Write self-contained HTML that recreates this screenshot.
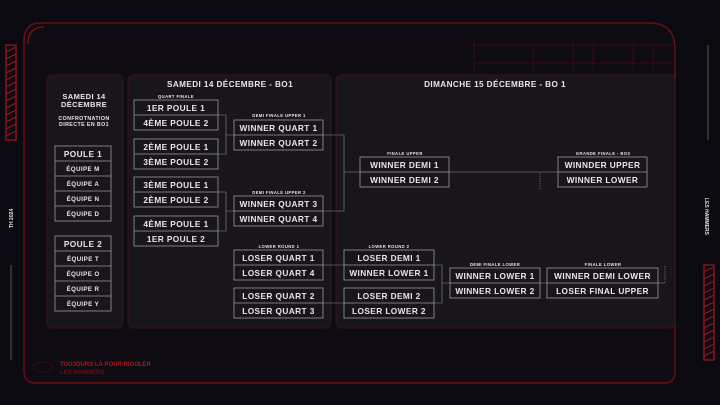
<!DOCTYPE html>
<html><head><meta charset="utf-8"><style>
html,body{margin:0;padding:0;background:#0b0a10;}
svg{display:block;}
text{font-family:"Liberation Sans",sans-serif;font-weight:bold;fill:#e8e6ea;}
</style></head><body>
<svg width="720" height="405" viewBox="0 0 720 405" xmlns="http://www.w3.org/2000/svg">
<rect width="720" height="405" fill="#0b0a10"/>
<path d="M24,40 Q24,23 41,23 L650,23 Q675,23 675,50 L675,372 Q675,383 664,383 L36,383 Q24,383 24,371 Z" fill="#0e0c12" stroke="#6a0e16" stroke-width="1.5"/>
<path d="M28,44 Q28,27 44,27" fill="none" stroke="#a0141c" stroke-width="1"/>
<g stroke="#4a0e14" stroke-width="0.7">
<line x1="470" y1="45" x2="673" y2="45"/><line x1="475" y1="63" x2="673" y2="63"/>
<line x1="474" y1="40" x2="474" y2="75"/><line x1="533" y1="45" x2="533" y2="72"/>
<line x1="573" y1="42" x2="573" y2="72"/><line x1="593" y1="45" x2="593" y2="70"/>
<line x1="633" y1="45" x2="633" y2="70"/><line x1="653" y1="45" x2="653" y2="70"/>
</g>
<g fill="#19161b" stroke="#3a1116" stroke-width="1">
<rect x="47" y="75" width="76" height="253" rx="5"/>
<rect x="128" y="75" width="203" height="253" rx="5"/>
<rect x="336" y="75" width="339" height="253" rx="5"/>
</g>
<g fill="none" stroke="#8a121a" stroke-width="1.5">
<rect x="6" y="45" width="10" height="95"/>
<rect x="704" y="265" width="10" height="95"/>
</g>
<g stroke="#8a121a" stroke-width="1.3">
<path d="M6,52 L16,47 M6,59 L16,54 M6,66 L16,61 M6,73 L16,68 M6,80 L16,75 M6,87 L16,82 M6,94 L16,89 M6,101 L16,96 M6,108 L16,103 M6,115 L16,110 M6,122 L16,117 M6,129 L16,124 M6,136 L16,131"/>
<path d="M704,272 L714,267 M704,279 L714,274 M704,286 L714,281 M704,293 L714,288 M704,300 L714,295 M704,307 L714,302 M704,314 L714,309 M704,321 L714,316 M704,328 L714,323 M704,335 L714,330 M704,342 L714,337 M704,349 L714,344 M704,356 L714,351"/>
</g>
<line x1="11" y1="265" x2="11" y2="360" stroke="#888" stroke-width="0.6"/>
<line x1="708" y1="45" x2="708" y2="140" stroke="#888" stroke-width="0.6"/>
<text transform="translate(13,228) rotate(-90)" font-size="5">TH 2024</text>
<text transform="translate(705,198) rotate(90)" font-size="5">LES HAMMERS</text>
<ellipse cx="43" cy="367" rx="10" ry="5" fill="none" stroke="#3a0a10"/>
<text x="60" y="366" font-size="6" style="fill:#b0141c">TOUJOURS LÀ POUR RIGOLER</text>
<text x="60" y="374" font-size="6" style="fill:#6a0e14">LES HAMMERS</text>
<g text-anchor="middle" letter-spacing="0.4">
<text x="230" y="87" font-size="8.2">SAMEDI 14 DÉCEMBRE  -  BO1</text>
<text x="495" y="87" font-size="8.2">DIMANCHE 15 DÉCEMBRE  -  BO 1</text>
<text x="84" y="99" font-size="7.5">SAMEDI 14</text>
<text x="84" y="107" font-size="7.5">DÉCEMBRE</text>
<text x="84" y="120" font-size="5.3">CONFROTNATION</text>
<text x="84" y="126" font-size="5.3">DIRECTE EN BO1</text>
<g font-size="4.2" style="fill:#bbb">
<text x="176" y="98">QUART FINALE</text>
<text x="279" y="117">DEMI FINALE UPPER 1</text>
<text x="279" y="194">DEMI FINALE UPPER 2</text>
<text x="279" y="248">LOWER ROUND 1</text>
<text x="389" y="248">LOWER ROUND 2</text>
<text x="405" y="155">FINALE UPPER</text>
<text x="603" y="155">GRANDE FINALE - BO3</text>
<text x="495" y="266">DEMI FINALE LOWER</text>
<text x="603" y="266">FINALE LOWER</text>
</g>
</g>
<g stroke="#8a8890" stroke-width="0.6" fill="none">
<path d="M218,115 H226 V154 H218 M226,135 H234"/>
<path d="M218,192 H226 V231 H218 M226,211 H234"/>
<path d="M323,135 H344 V211 H323 M344,172 H360"/>
<path d="M449,172 H558"/>
<path d="M540,173 V190" stroke-dasharray="1.5,1"/>
<path d="M323,265 H344 M323,303 H344"/>
<path d="M434,265 H442 V303 H434 M442,283 H450"/>
<path d="M540,283 H547 M658,283 H665"/>
<path d="M665,266 V283" stroke-dasharray="1.5,1"/>
</g>
<g fill="none" stroke="#9a98a0" stroke-width="0.8">
<rect x="134" y="100" width="84" height="30"/><line x1="134" y1="115" x2="218" y2="115"/>
<rect x="134" y="139" width="84" height="30"/><line x1="134" y1="154" x2="218" y2="154"/>
<rect x="134" y="177" width="84" height="30"/><line x1="134" y1="192" x2="218" y2="192"/>
<rect x="134" y="216" width="84" height="30"/><line x1="134" y1="231" x2="218" y2="231"/>
<rect x="234" y="120" width="89" height="30"/><line x1="234" y1="135" x2="323" y2="135"/>
<rect x="234" y="196" width="89" height="30"/><line x1="234" y1="211" x2="323" y2="211"/>
<rect x="234" y="250" width="89" height="30"/><line x1="234" y1="265" x2="323" y2="265"/>
<rect x="234" y="288" width="89" height="30"/><line x1="234" y1="303" x2="323" y2="303"/>
<rect x="344" y="250" width="90" height="30"/><line x1="344" y1="265" x2="434" y2="265"/>
<rect x="344" y="288" width="90" height="30"/><line x1="344" y1="303" x2="434" y2="303"/>
<rect x="360" y="157" width="89" height="30"/><line x1="360" y1="172" x2="449" y2="172"/>
<rect x="558" y="157" width="89" height="30"/><line x1="558" y1="172" x2="647" y2="172"/>
<rect x="450" y="268" width="90" height="30"/><line x1="450" y1="283" x2="540" y2="283"/>
<rect x="547" y="268" width="111" height="30"/><line x1="547" y1="283" x2="658" y2="283"/>
<rect x="55" y="146" width="56" height="75"/>
<line x1="55" y1="161" x2="111" y2="161"/><line x1="55" y1="176" x2="111" y2="176"/><line x1="55" y1="191" x2="111" y2="191"/><line x1="55" y1="206" x2="111" y2="206"/>
<rect x="55" y="236" width="56" height="75"/>
<line x1="55" y1="251" x2="111" y2="251"/><line x1="55" y1="266" x2="111" y2="266"/><line x1="55" y1="281" x2="111" y2="281"/><line x1="55" y1="296" x2="111" y2="296"/>
</g>
<g text-anchor="middle" font-size="8.3" letter-spacing="0.4">
<text x="176" y="111">1ER POULE 1</text><text x="176" y="126">4ÈME POULE 2</text>
<text x="176" y="150">2ÈME POULE 1</text><text x="176" y="165">3ÈME POULE 2</text>
<text x="176" y="188">3ÈME POULE 1</text><text x="176" y="203">2ÈME POULE 2</text>
<text x="176" y="227">4ÈME POULE 1</text><text x="176" y="242">1ER POULE 2</text>
<text x="278.5" y="131">WINNER QUART 1</text><text x="278.5" y="146">WINNER QUART 2</text>
<text x="278.5" y="207">WINNER QUART 3</text><text x="278.5" y="222">WINNER QUART 4</text>
<text x="278.5" y="261">LOSER QUART 1</text><text x="278.5" y="276">LOSER QUART 4</text>
<text x="278.5" y="299">LOSER QUART 2</text><text x="278.5" y="314">LOSER QUART 3</text>
<text x="389" y="261">LOSER DEMI 1</text><text x="389" y="276">WINNER LOWER 1</text>
<text x="389" y="299">LOSER DEMI 2</text><text x="389" y="314">LOSER LOWER 2</text>
<text x="404.5" y="168">WINNER DEMI 1</text><text x="404.5" y="183">WINNER DEMI 2</text>
<text x="602.5" y="168">WINNDER UPPER</text><text x="602.5" y="183">WINNER LOWER</text>
<text x="495" y="279">WINNER LOWER 1</text><text x="495" y="294">WINNER LOWER 2</text>
<text x="602.5" y="279">WINNER DEMI LOWER</text><text x="602.5" y="294">LOSER FINAL UPPER</text>
<text x="83" y="157">POULE 1</text><text x="83" y="247">POULE 2</text>
</g>
<g text-anchor="middle" font-size="6.2" letter-spacing="0.4">
<text x="83" y="171">ÉQUIPE M</text><text x="83" y="186">ÉQUIPE A</text><text x="83" y="201">ÉQUIPE N</text><text x="83" y="216">ÉQUIPE D</text>
<text x="83" y="261">ÉQUIPE T</text><text x="83" y="276">ÉQUIPE O</text><text x="83" y="291">ÉQUIPE R</text><text x="83" y="306">ÉQUIPE Y</text>
</g>
</svg>
</body></html>
